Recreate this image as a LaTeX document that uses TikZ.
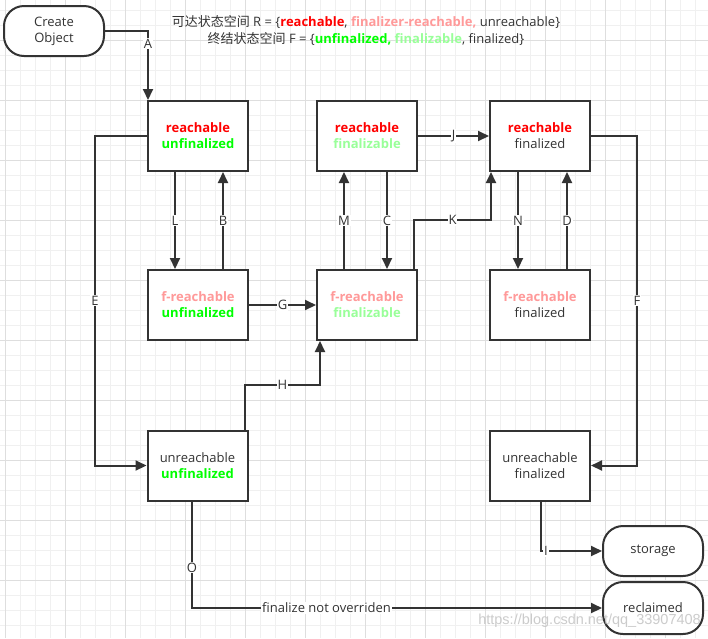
\documentclass[tikz,border=0pt]{standalone}
\usepackage{fontspec}
\setmainfont{Open Sans}
\newfontfamily\cjk{Noto Sans CJK SC}
\newfontfamily\wmfont{Liberation Sans}
\usetikzlibrary{arrows.meta}
\definecolor{edgec}{HTML}{333333}
\definecolor{txt}{HTML}{333333}
\definecolor{rd}{HTML}{FF0000}
\definecolor{pk}{HTML}{FF9999}
\definecolor{gn}{HTML}{00FF00}
\definecolor{lg}{HTML}{99FF99}
\definecolor{gminor}{HTML}{F0F0F0}
\definecolor{gmajor}{HTML}{DEDEDE}
\newcommand{\txR}[1]{\textbf{\textcolor{rd}{#1}}}
\newcommand{\txP}[1]{\textbf{\textcolor{pk}{#1}}}
\newcommand{\txG}[1]{\textbf{\textcolor{gn}{#1}}}
\newcommand{\txLG}[1]{\textbf{\textcolor{lg}{#1}}}
\tikzset{
  statebox/.style={draw=edgec, line width=2pt, fill=white, minimum width=100pt,
    minimum height=70pt, inner sep=0pt, align=center, text=txt,
    font=\fontsize{13}{16}\selectfont},
  termbox/.style={statebox, rounded corners=20pt, minimum height=50pt},
  arr/.style={draw=edgec, line width=2pt, -{Triangle[length=11pt,width=10pt]}},
  lbl/.style={fill=white, inner sep=1pt, text=txt, font=\fontsize{13}{14}\selectfont},
}
\begin{document}
\begin{tikzpicture}[x=1pt,y=-1pt]
\fill[white] (0,0) rectangle (708,638);
\useasboundingbox (0,0) rectangle (708,638);
% grid
\foreach \x in {5,20,...,705} \draw[gminor, line width=1pt] (\x,0) -- (\x,638);
\foreach \y in {10,25,...,635} \draw[gminor, line width=1pt] (0,\y) -- (708,\y);
\foreach \x in {5,65,...,665} \draw[gmajor, line width=1pt] (\x,0) -- (\x,638);
\foreach \y in {40,100,...,580} \draw[gmajor, line width=1pt] (0,\y) -- (708,\y);

% header
\node[text=txt, font=\fontsize{13}{16}\selectfont] (h1) at (366,22)
  {{\cjk 可达状态空间} R = \{\txR{reachable}, \txP{finalizer-reachable,} unreachable\}};
\node[text=txt, font=\fontsize{13}{16}\selectfont] (h2) at (366,39)
  {{\cjk 终结状态空间} F = \{\txG{unfinalized,} \txLG{finalizable}, finalized\}};

% nodes
\node[termbox] (create) at (54,31) {Create\\Object};
\node[statebox] (b1) at (198,136) {\txR{reachable}\\\txG{unfinalized}};
\node[statebox] (b2) at (367,136) {\txR{reachable}\\\txLG{finalizable}};
\node[statebox] (b3) at (540,136) {\txR{reachable}\\finalized};
\node[statebox] (b4) at (198,305) {\txP{f-reachable}\\\txG{unfinalized}};
\node[statebox] (b5) at (367,305) {\txP{f-reachable}\\\txLG{finalizable}};
\node[statebox] (b6) at (540,305) {\txP{f-reachable}\\finalized};
\node[statebox] (b7) at (197.5,465.5) {unreachable\\\txG{unfinalized}};
\node[statebox] (b8) at (540,465.5) {unreachable\\finalized};
\node[termbox] (storage) at (653,551) {storage};
\node[termbox, minimum height=52pt] (reclaimed) at (653,608) {reclaimed};

% connectors
\draw[arr] (create.east) -| ([xshift=-50pt]b1.north) node[lbl,pos=0.59] {A};
\draw[arr] ([xshift=-23pt]b1.south) -- ([xshift=-23pt]b4.north) node[lbl,midway] {L};
\draw[arr] ([xshift=25pt]b4.north) -- ([xshift=25pt]b1.south) node[lbl,midway] {B};
\draw[arr] ([xshift=-23pt]b5.north) -- ([xshift=-23pt]b2.south) node[lbl,midway] {M};
\draw[arr] ([xshift=20pt]b2.south) -- ([xshift=20pt]b5.north) node[lbl,midway] {C};
\coordinate (kc) at (491,220);
\draw[arr] ([xshift=47pt]b5.north) |- (kc) node[lbl,pos=0.75] {K} -- ([xshift=-49pt]b3.south);
\draw[arr] (b2.east) -- (b3.west) node[lbl,midway] {J};
\draw[arr] ([xshift=-22pt]b3.south) -- ([xshift=-22pt]b6.north) node[lbl,midway] {N};
\draw[arr] ([xshift=27pt]b6.north) -- ([xshift=27pt]b3.south) node[lbl,midway] {D};
\draw[arr] (b4.east) -- (b5.west) node[lbl,midway] {G};
\coordinate (hc) at (320,385);
\draw[arr] ([xshift=47.5pt]b7.north) |- (hc) node[lbl,pos=0.75] {H} -- ([xshift=-47pt]b5.south);
\draw[arr] (b1.west) -- ++(-52,0) |- (b7.west) node[lbl,pos=0.25] {E};
\draw[arr] (b3.east) -- ++(46,0) |- (b8.east) node[lbl,pos=0.25] {F};
\draw[arr] ([xshift=1pt]b8.south) |- (storage.west) node[lbl,pos=0.54] {I};
\draw[arr] ([xshift=-5.5pt]b7.south) |- (reclaimed.west)
  node[lbl,pos=0.31] {O} node[lbl,pos=0.664] {finalize not overriden};

% watermark
\node[text=black!25, opacity=0.8, inner sep=0pt, font=\wmfont\fontsize{14.5}{16}\selectfont, anchor=east] (wm) at (701,621) {https://blog.csdn.net/qq\_33907408};
\end{tikzpicture}
\end{document}
